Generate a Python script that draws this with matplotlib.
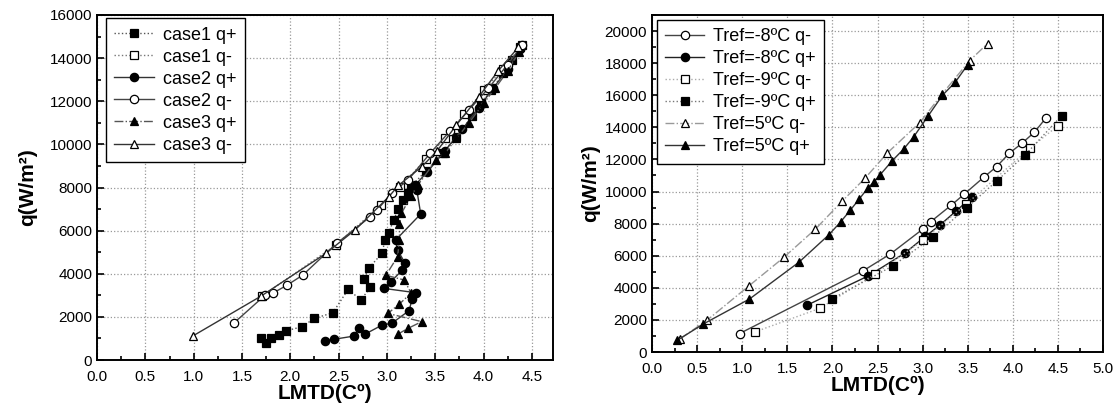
"""
Heat flux against LMTD for the three test cases and the three refrigerant temperatures.
"""

import matplotlib

matplotlib.use("Agg")

import matplotlib.pyplot as plt
from matplotlib.ticker import MultipleLocator

plt.rcParams["font.family"] = ["Liberation Sans", "DejaVu Sans"]

# left chart: LMTD (C) and q (W/m2)
case1_qp_x = [1.70, 1.75, 1.80, 1.88, 1.96, 2.12, 2.25, 2.44, 2.60, 2.73, 2.83, 2.76, 2.81, 2.95, 2.98, 3.02, 3.07,
              3.12, 3.17, 3.22, 3.25, 3.40, 3.58, 3.72, 3.88, 3.97, 4.08, 4.20, 4.30, 4.38]
case1_qp_y = [1010, 770, 1000, 1160, 1360, 1540, 1930, 2190, 3280, 2780, 3370, 3740, 4250, 4950, 5560, 5900, 6500,
              7000, 7400, 7750, 8050, 8750, 9600, 10350, 11300, 11900, 12500, 13300, 13900, 14500]
case1_qm_x = [1.71, 2.47, 2.94, 3.14, 3.40, 3.60, 3.80, 4.00, 4.20, 4.40]
case1_qm_y = [2970, 5330, 7190, 8040, 9300, 10300, 11400, 12500, 13500, 14600]
case2_qp_x = [2.36, 2.45, 2.66, 2.71, 2.77, 2.95, 3.05, 3.23, 3.26, 3.30, 2.97, 3.04, 3.16, 3.19, 3.11, 3.09,
              3.35, 3.31, 3.29, 3.42, 3.60, 3.78, 3.95, 4.10, 4.25, 4.38]
case2_qp_y = [900, 960, 1110, 1470, 1190, 1620, 1700, 2290, 2810, 3120, 3320, 3630, 4170, 4480, 5100, 5560,
              6770, 7880, 8100, 8730, 9700, 10700, 11700, 12600, 13500, 14400]
case2_qm_x = [1.42, 1.74, 1.82, 1.97, 2.13, 2.48, 2.83, 2.90, 3.05, 3.22, 3.45, 3.65, 3.85, 4.05, 4.25, 4.40]
case2_qm_y = [1730, 3010, 3100, 3480, 3940, 5410, 6650, 6960, 7750, 8350, 9600, 10600, 11600, 12600, 13700, 14600]
case3_qp_x = [3.11, 3.22, 3.36, 3.01, 3.13, 3.25, 3.18, 2.99, 3.11, 3.13, 3.13, 3.15, 3.25, 3.32, 3.51, 3.60,
              3.72, 3.85, 4.00, 4.12, 4.25, 4.37]
case3_qp_y = [1190, 1470, 1780, 2160, 2600, 3100, 3710, 3930, 4790, 5560, 6300, 6800, 7600, 8110, 9270, 9580,
              10280, 11000, 11900, 12600, 13400, 14300]
case3_qm_x = [0.99, 1.70, 2.37, 2.67, 3.02, 3.12, 3.36, 3.52, 3.72, 3.95, 4.15, 4.36]
case3_qm_y = [1110, 2970, 4950, 6030, 7570, 8100, 8960, 9700, 10900, 12200, 13400, 14500]

# right chart
m8_qm_x = [0.97, 2.34, 2.64, 3.00, 3.09, 3.32, 3.46, 3.68, 3.82, 3.96, 4.10, 4.24, 4.37]
m8_qm_y = [1150, 5060, 6100, 7650, 8120, 9160, 9830, 10900, 11550, 12380, 13000, 13700, 14600]
m8_qp_x = [1.72, 2.40, 2.80, 3.03, 3.19, 3.37, 3.55]
m8_qp_y = [2920, 4750, 6150, 7200, 7900, 8780, 9680]
m9_qm_x = [1.14, 1.86, 2.47, 3.00, 3.48, 4.19, 4.50]
m9_qm_y = [1250, 2720, 4850, 6950, 9200, 12700, 14100]
m9_qp_x = [2.00, 2.67, 3.12, 3.49, 3.82, 4.14, 4.54]
m9_qp_y = [3320, 5370, 7190, 9000, 10650, 12300, 14720]
p5_qm_x = [0.31, 0.61, 1.07, 1.46, 1.81, 2.11, 2.36, 2.61, 2.97, 3.22, 3.52, 3.72]
p5_qm_y = [820, 1980, 4100, 5890, 7650, 9410, 10820, 12410, 14300, 16100, 18150, 19220]
p5_qp_x = [0.28, 0.57, 1.08, 1.63, 1.96, 2.09, 2.20, 2.30, 2.39, 2.46, 2.53, 2.66, 2.79, 2.90, 3.06, 3.22,
           3.36, 3.50]
p5_qp_y = [730, 1750, 3300, 5600, 7300, 8100, 8850, 9550, 10200, 10600, 11050, 11900, 12650, 13400, 14700, 16000,
           16800, 17900]

left_series = [
    (case1_qp_x, case1_qp_y, "case1 q+", "s", "black", ":", "#555555"),
    (case1_qm_x, case1_qm_y, "case1 q-", "s", "white", ":", "#777777"),
    (case2_qp_x, case2_qp_y, "case2 q+", "o", "black", "-", "#333333"),
    (case2_qm_x, case2_qm_y, "case2 q-", "o", "white", "-", "#444444"),
    (case3_qp_x, case3_qp_y, "case3 q+", "^", "black", "-.", "#555555"),
    (case3_qm_x, case3_qm_y, "case3 q-", "^", "white", "-", "#333333"),
]
right_series = [
    (m8_qm_x, m8_qm_y, "Tref=-8ºC q-", "o", "white", "-", "#444444"),
    (m8_qp_x, m8_qp_y, "Tref=-8ºC q+", "o", "black", "-", "#222222"),
    (m9_qm_x, m9_qm_y, "Tref=-9ºC q-", "s", "white", ":", "#aaaaaa"),
    (m9_qp_x, m9_qp_y, "Tref=-9ºC q+", "s", "black", ":", "#777777"),
    (p5_qm_x, p5_qm_y, "Tref=5ºC q-", "^", "white", "-.", "#999999"),
    (p5_qp_x, p5_qp_y, "Tref=5ºC q+", "^", "black", "-", "#333333"),
]


def draw_panel(ax, series, xmax, ymax, ystep, legend_anchor, ylabel_pad):
    for x, y, label, marker, face, style, color in series:
        ax.plot(x, y, linestyle=style, color=color, linewidth=1.0, marker=marker, markersize=6,
                markerfacecolor=face, markeredgecolor="black", markeredgewidth=0.9, label=label)

    ax.set_xlim(0, xmax)
    ax.set_ylim(0, ymax)
    ax.xaxis.set_major_locator(MultipleLocator(0.5))
    ax.xaxis.set_minor_locator(MultipleLocator(0.25))
    ax.yaxis.set_major_locator(MultipleLocator(ystep))
    ax.yaxis.set_minor_locator(MultipleLocator(ystep / 2))
    ax.tick_params(which="both", direction="in", width=1.2, labelsize=11)
    ax.tick_params(which="major", length=5)
    ax.tick_params(which="minor", length=3)
    ax.tick_params(axis="x", which="major", pad=7)
    ax.grid(True, which="major", linestyle=":", color="#999999", linewidth=0.9)
    for spine in ax.spines.values():
        spine.set_linewidth(1.4)

    ax.set_xlabel("LMTD(Cº)", fontsize=15, fontweight="bold", labelpad=0)
    ax.set_ylabel("q(W/m²)", fontsize=15, fontweight="bold", labelpad=ylabel_pad)

    leg = ax.legend(loc="upper left", bbox_to_anchor=legend_anchor, borderaxespad=0, fontsize=13,
                    labelspacing=0.28, borderpad=0.45, handlelength=2.2, handletextpad=0.5,
                    fancybox=False, framealpha=1, edgecolor="black")
    leg.get_frame().set_linewidth(1.0)


fig = plt.figure(figsize=(11.18, 4.12), dpi=100)
ax_left = fig.add_axes([0.0868, 0.1262, 0.4079, 0.8374])
ax_right = fig.add_axes([0.5832, 0.1456, 0.4034, 0.8180])

draw_panel(ax_left, left_series, 4.72, 16000, 2000, (0.02, 0.99), 9)
draw_panel(ax_right, right_series, 5.0, 21000, 2000, (0.01, 0.985), 3)

fig.savefig("out.png", dpi=100)
